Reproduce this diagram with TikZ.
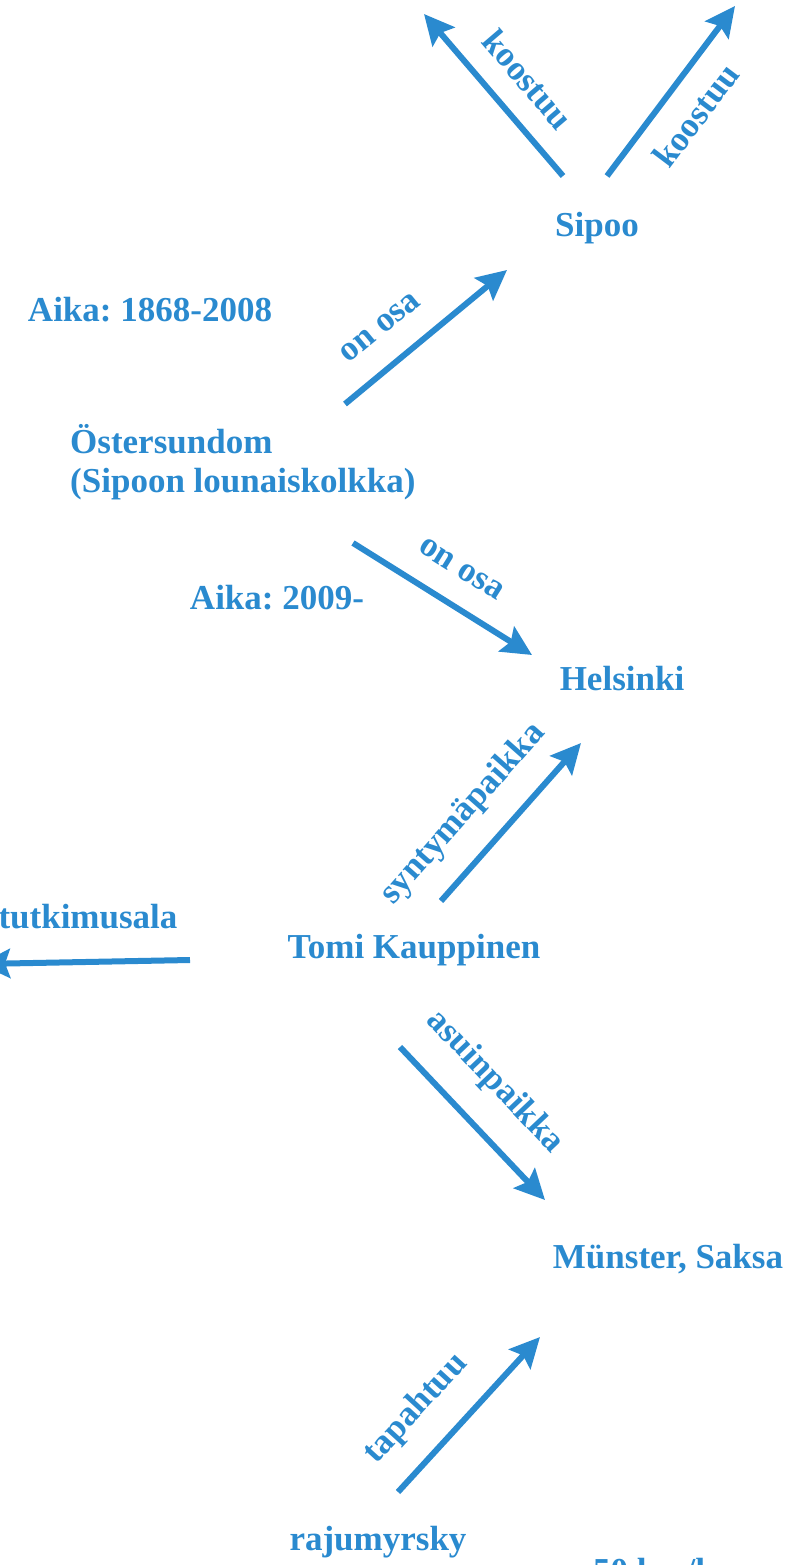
\documentclass[tikz,border=0pt]{standalone}
\usepackage{fontspec}
\setmainfont{Liberation Serif}
\usetikzlibrary{arrows.meta}
\definecolor{relblue}{RGB}{42,138,207}
\newcommand{\bigfont}{\fontsize{35}{39}\selectfont\bfseries\frenchspacing}
\begin{document}
\begin{tikzpicture}[x=1pt, y=1pt,
  every node/.style={text=relblue, font=\bigfont, inner sep=2pt},
  place/.style={anchor=base},
  rel/.style={draw=relblue, line width=6pt, -{Stealth[length=30pt, width=29pt, inset=5pt]}},
  lbl/.style={sloped}]
  \useasboundingbox (0,0) rectangle (802,-1565);
  \clip (0,0) rectangle (802,-1565);
  % places and times
  \node[place] (sipoo) at (597,-236) {Sipoo};
  \node[place] (aika1) at (150,-321) {Aika: 1868-2008};
  \node[anchor=north west, align=left] (oster) at (68,-422) {Östersundom\\(Sipoon lounaiskolkka)};
  \node[place] (aika2) at (277,-609) {Aika: 2009-};
  \node[place] (helsinki) at (622,-690) {Helsinki};
  \node[place] (tutkimus) at (88,-928) {tutkimusala};
  \node[place] (tomi) at (414,-958) {Tomi Kauppinen};
  \node[place] (munster) at (668,-1268) {Münster, Saksa};
  \node[place] (raju) at (378,-1550) {rajumyrsky};
  \node[place] (kmh) at (654,-1582) {50 km/h};
  \coordinate (topleft) at (424,-14);
  \coordinate (topright) at (735,-6);
  \coordinate (westend) at (-20,-964);
  % relations
  \draw[rel] ([shift={(-34,60)}]sipoo.base) -- (topleft)
    node[lbl, pos=0.45, above=19pt] {koostuu};
  \draw[rel] ([shift={(10,60)}]sipoo.base) -- (topright)
    node[lbl, pos=0.48, below=17pt] {koostuu};
  \draw[rel] ([shift={(277,18)}]oster.north west) -- ([shift={(-90,-34)}]sipoo.base)
    node[lbl, pos=0.36, above=23pt] {on osa};
  \draw[rel] ([shift={(285,-121)}]oster.north west) -- ([shift={(-90,35)}]helsinki.base)
    node[lbl, pos=0.5, above=22pt] {on osa};
  \draw[rel] ([shift={(27,57)}]tomi.base) -- ([shift={(-41,-53)}]helsinki.base)
    node[lbl, pos=0.38, above=20pt] {syntymäpaikka};
  \draw[rel] ([shift={(-224,-2)}]tomi.base) -- (westend);
  \draw[rel] ([shift={(-14,-89)}]tomi.base) -- ([shift={(-123,68)}]munster.base)
    node[lbl, pos=0.43, above=24pt] {asuinpaikka};
  \draw[rel] ([shift={(20,58)}]raju.base) -- ([shift={(-128,-69)}]munster.base)
    node[lbl, pos=0.35, above=22pt] {tapahtuu};
\end{tikzpicture}
\end{document}
